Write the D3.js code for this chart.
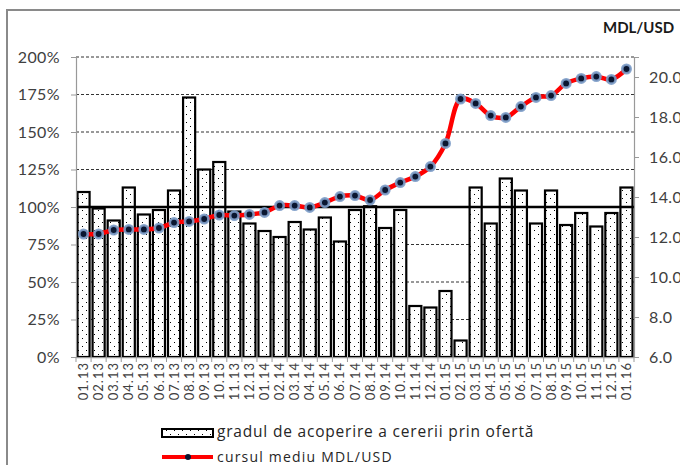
<!DOCTYPE html>
<html lang="ro">
<head>
  <meta charset="utf-8"/>
  <title>Gradul de acoperire a cererii prin ofertă</title>
  <script src="https://cdn.jsdelivr.net/npm/d3@7/dist/d3.min.js"></script>
  <style>
    html, body { margin:0; padding:0; background:#fff; overflow:hidden; }
    svg { display:block; font-family:Lato, "Open Sans", sans-serif; }
    .lbl { fill:#404040; }
    .leg { font-family:"Open Sans", sans-serif; fill:#262626; }
  </style>
</head>
<body>
<svg width="680" height="465"></svg>
<script>
  // luni (axa X)
  const months = [
    "01.13","02.13","03.13","04.13","05.13","06.13","07.13","08.13","09.13","10.13","11.13","12.13",
    "01.14","02.14","03.14","04.14","05.14","06.14","07.14","08.14","09.14","10.14","11.14","12.14",
    "01.15","02.15","03.15","04.15","05.15","06.15","07.15","08.15","09.15","10.15","11.15","12.15",
    "01.16"
  ];
  // gradul de acoperire a cererii prin ofertă, %
  const coverage = [
    110, 99, 91, 113, 95, 98, 111, 173, 125, 130, 97, 89,
    84, 80, 90, 85, 93, 77, 98, 100.5, 86, 98, 34, 33,
    44, 11, 113, 89, 119, 111, 89, 111, 88, 96, 87, 96,
    113
  ];
  // cursul mediu MDL/USD
  const rate = [
    12.15, 12.15, 12.35, 12.38, 12.38, 12.45, 12.72, 12.78, 12.9, 13.1, 13.07, 13.13,
    13.23, 13.57, 13.57, 13.48, 13.72, 14.02, 14.07, 13.85, 14.35, 14.72, 15.02, 15.52,
    16.68, 18.9, 18.68, 18.07, 17.98, 18.52, 18.98, 19.07, 19.68, 19.93, 20.02, 19.88,
    20.4
  ];
  const leftTicks  = [0, 25, 50, 75, 100, 125, 150, 175, 200];
  const rightTicks = [6, 8, 10, 12, 14, 16, 18, 20];

  const svg = d3.select("svg");
  const L = 76, R = 634, T = 57, B = 357;

  const x  = d3.scaleBand().domain(months).range([L, R]).padding(0);
  const yL = d3.scaleLinear().domain([0, 200]).range([B, T]);
  const yR = d3.scaleLinear().domain([6, 21]).range([B, T]);

  // model cu puncte pentru coloane
  const defs = svg.append("defs");
  const pat = defs.append("pattern")
    .attr("id", "dots").attr("patternUnits", "userSpaceOnUse")
    .attr("width", 8).attr("height", 8);
  pat.append("rect").attr("width", 8).attr("height", 8).attr("fill", "#fff");
  pat.append("rect").attr("x", 2).attr("y", 2).attr("width", 1).attr("height", 1).attr("fill", "#000");
  pat.append("rect").attr("x", 6).attr("y", 6).attr("width", 1).attr("height", 1).attr("fill", "#000");

  // chenar exterior
  svg.append("rect")
    .attr("x", 7).attr("y", 10).attr("width", 700).attr("height", 500)
    .attr("fill", "none").attr("stroke", "#8a8a8a").attr("stroke-width", 2);

  // linii de grilă
  svg.append("g")
    .selectAll("line")
    .data(leftTicks.filter(d => d > 0 && d !== 100))
    .join("line")
      .attr("x1", L).attr("x2", R)
      .attr("y1", d => yL(d)).attr("y2", d => yL(d))
      .attr("stroke", "#333").attr("stroke-width", 1)
      .attr("stroke-dasharray", "3,2");

  // coloane
  const bw = x.bandwidth() - 3;
  svg.append("g")
    .selectAll("rect")
    .data(coverage)
    .join("rect")
      .attr("x", (d, i) => x(months[i]) + (x.bandwidth() - bw) / 2)
      .attr("y", d => yL(d))
      .attr("width", bw)
      .attr("height", d => B - yL(d))
      .attr("fill", "url(#dots)")
      .attr("stroke", "#000").attr("stroke-width", 2.2);

  // linia 100%
  svg.append("line")
    .attr("x1", L).attr("x2", R)
    .attr("y1", yL(100)).attr("y2", yL(100))
    .attr("stroke", "#000").attr("stroke-width", 2.5);

  // axe
  const axL = svg.append("g").attr("transform", `translate(${L},0)`)
    .call(d3.axisLeft(yL).tickValues(leftTicks).tickSize(5).tickFormat(d => d + "%"));
  const axR = svg.append("g").attr("transform", `translate(${R},0)`)
    .call(d3.axisRight(yR).tickValues(rightTicks).tickSize(5).tickFormat(d3.format(".1f")));
  const axB = svg.append("g").attr("transform", `translate(0,${B})`)
    .call(d3.axisBottom(x).tickSize(0).tickSizeOuter(0));

  [axL, axR].forEach(g => {
    g.select(".domain").attr("stroke", "#999").attr("stroke-width", 1.2);
    g.selectAll(".tick line").attr("stroke", "#999");
    g.selectAll("text").attr("class", "lbl").attr("font-size", 16)
      .attr("font-family", "Lato, sans-serif").attr("letter-spacing", 0.4);
  });
  axL.selectAll("text").attr("x", -16);
  axR.selectAll("text").attr("x", 15);

  axB.select(".domain").attr("stroke", "#999").attr("stroke-width", 1.2);
  axB.selectAll("text")
    .attr("class", "lbl").attr("font-size", 13).attr("font-family", "Lato, sans-serif")
    .attr("letter-spacing", 1)
    .attr("transform", "rotate(-90)")
    .attr("text-anchor", "end")
    .attr("x", -5).attr("y", 0).attr("dy", "0.35em");
  // repere între coloane
  svg.append("g")
    .selectAll("line")
    .data(months.concat([null]))
    .join("line")
      .attr("x1", (d, i) => L + i * x.step()).attr("x2", (d, i) => L + i * x.step())
      .attr("y1", B).attr("y2", B + 5)
      .attr("stroke", "#999");

  // cursul mediu
  const line = d3.line()
    .x((d, i) => x(months[i]) + x.bandwidth() / 2)
    .y(d => yR(d))
    .curve(d3.curveCatmullRom.alpha(0.5));
  svg.append("path")
    .datum(rate)
    .attr("d", line)
    .attr("fill", "none").attr("stroke", "#f00").attr("stroke-width", 4.5);
  svg.append("g")
    .selectAll("circle")
    .data(rate)
    .join("circle")
      .attr("cx", (d, i) => x(months[i]) + x.bandwidth() / 2)
      .attr("cy", d => yR(d))
      .attr("r", 4.2)
      .attr("fill", "#0a1630")
      .attr("stroke", "#7c9cc8").attr("stroke-opacity", 0.9).attr("stroke-width", 2.6);

  // titlul axei din dreapta
  svg.append("text")
    .attr("x", 603).attr("y", 33)
    .attr("font-size", 15).attr("font-weight", "bold").attr("fill", "#1a1a1a")
    .text("MDL/USD");

  // legenda
  const lg = svg.append("g");
  lg.append("rect")
    .attr("x", 162).attr("y", 429).attr("width", 51).attr("height", 8)
    .attr("fill", "url(#dots)").attr("stroke", "#000").attr("stroke-width", 2);
  lg.append("text")
    .attr("class", "leg")
    .attr("x", 217).attr("y", 437)
    .style("font-size", "15.5px").style("letter-spacing", "0.8px")
    .text("gradul de acoperire a cererii prin ofertă");
  lg.append("line")
    .attr("x1", 162).attr("x2", 213).attr("y1", 457).attr("y2", 457)
    .attr("stroke", "#f00").attr("stroke-width", 4);
  lg.append("circle")
    .attr("cx", 188).attr("cy", 457).attr("r", 3).attr("fill", "#0a1630");
  lg.append("text")
    .attr("class", "leg")
    .attr("x", 217).attr("y", 462)
    .style("font-size", "14px").style("letter-spacing", "1.2px")
    .text("cursul mediu MDL/USD");
</script>
</body>
</html>
